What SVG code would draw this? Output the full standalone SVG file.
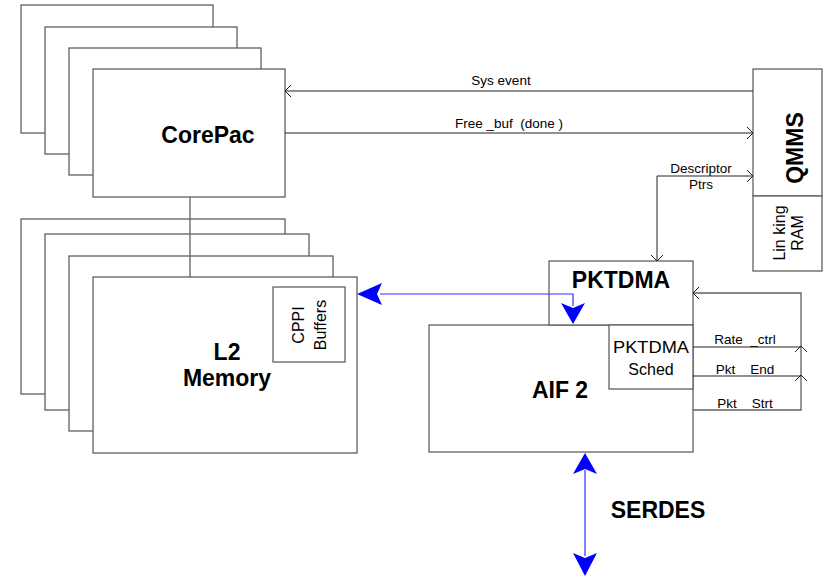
<svg xmlns="http://www.w3.org/2000/svg" width="825" height="578" viewBox="0 0 825 578">
<style>
.box{fill:#fff;stroke:#606060;stroke-width:1.3}
.ln{fill:none;stroke:#222;stroke-width:1}
.gl{fill:none;stroke:#606060;stroke-width:1.3}
.bl{fill:none;stroke:#3030ff;stroke-width:1.2}
.bh{fill:#0000ff;stroke:none}
text{font-family:"Liberation Sans",Arial,sans-serif;fill:#000;white-space:pre}
.big{font-weight:bold;font-size:23px;text-anchor:middle}
.sm{font-size:13.5px;text-anchor:middle}
.md{font-size:16px;text-anchor:middle}
</style>
<rect width="825" height="578" fill="#fff"/>
<g id="corepac">
<rect class="box" x="21" y="5" width="192" height="128"/>
<rect class="box" x="45" y="27" width="192" height="127"/>
<rect class="box" x="69" y="48" width="192" height="127"/>
<rect class="box" x="93" y="69" width="192" height="128"/>
<text class="big" x="208" y="143" font-size="22">CorePac</text>
</g>
<g id="l2">
<rect class="box" x="21" y="219" width="264" height="175"/>
<rect class="box" x="45" y="234" width="264" height="176"/>
<rect class="box" x="69" y="256" width="264" height="175"/>
<rect class="box" x="93" y="277" width="264" height="176"/>
<text class="big" x="227" y="360">L2</text>
<text class="big" x="227" y="386">Memory</text>
</g>
<g id="cppi">
<rect class="box" x="273" y="287" width="72" height="75"/>
<text class="md" transform="translate(304,325) rotate(-90)">CPPI</text>
<text class="md" transform="translate(326,325) rotate(-90)">Buffers</text>
</g>
<g id="qmms">
<rect class="box" x="753" y="69" width="69" height="127"/>
<rect class="box" x="753" y="196" width="69" height="75"/>
<text class="big" transform="translate(803,148) rotate(-90)">QMMS</text>
<text class="md" transform="translate(785,233) rotate(-90)">Lin king</text>
<text class="md" transform="translate(803,233) rotate(-90)">RAM</text>
</g>
<g id="aif2">
<rect class="box" x="429" y="325" width="264" height="127"/>
<text class="big" x="560" y="398" font-size="24">AIF 2</text>
</g>
<g id="pktdma">
<rect class="box" x="549" y="261" width="144" height="64"/>
<text class="big" x="621" y="288" font-size="22">PKTDMA</text>
</g>
<g id="sched">
<rect class="box" x="609" y="325" width="84" height="64"/>
<text class="md" font-size="18" x="651" y="353" textLength="76" lengthAdjust="spacingAndGlyphs">PKTDMA</text>
<text class="md" font-size="18" x="651" y="375">Sched</text>
</g>
<g id="connectors">
<line class="gl" x1="190" y1="197" x2="190" y2="277"/>
<line class="ln" x1="285" y1="91" x2="753" y2="91"/>
<path class="ln" d="M291,85 L285,91 L291,97"/>
<text class="sm" x="501" y="85">Sys event</text>
<line class="ln" x1="285" y1="133" x2="753" y2="133"/>
<path class="ln" d="M747,127 L753,133 L747,139"/>
<text class="sm" x="509" y="128">Free _buf  (done )</text>
<path class="ln" d="M753,176 L657,176 L657,261"/>
<path class="ln" d="M747,170 L753,176 L747,182"/>
<path class="ln" d="M651,255 L657,261 L663,255"/>
<text class="sm" x="701" y="173">Descriptor</text>
<text class="sm" x="701" y="189">Ptrs</text>
<path class="bl" d="M380,294 L573,294 L573,306"/>
<path class="bh" d="M357,294 L382,283 L377,294 L382,305 Z"/>
<path class="bh" d="M573,324 L561,303 L573,308 L585,303 Z"/>
<line class="ln" x1="693" y1="347" x2="801" y2="347"/>
<line class="ln" x1="693" y1="376" x2="801" y2="376"/>
<path class="gl" d="M693,410 L801,410 L801,293 L693,293"/>
<path class="ln" d="M699,287 L693,293 L699,299"/>
<path class="ln" d="M795,352 L801,346 L807,352"/>
<path class="ln" d="M795,381 L801,375 L807,381"/>
<text class="sm" x="745" y="344">Rate  _ctrl</text>
<text class="sm" x="745" y="374">Pkt    End</text>
<text class="sm" x="745" y="408">Pkt    Strt</text>
<line class="bl" x1="585" y1="470" x2="585" y2="556"/>
<path class="bh" d="M585,453 L597,474 L585,469 L573,474 Z"/>
<path class="bh" d="M585,576 L573,553 L585,558 L597,553 Z"/>
<text class="big" x="658" y="518">SERDES</text>
</g>
</svg>
